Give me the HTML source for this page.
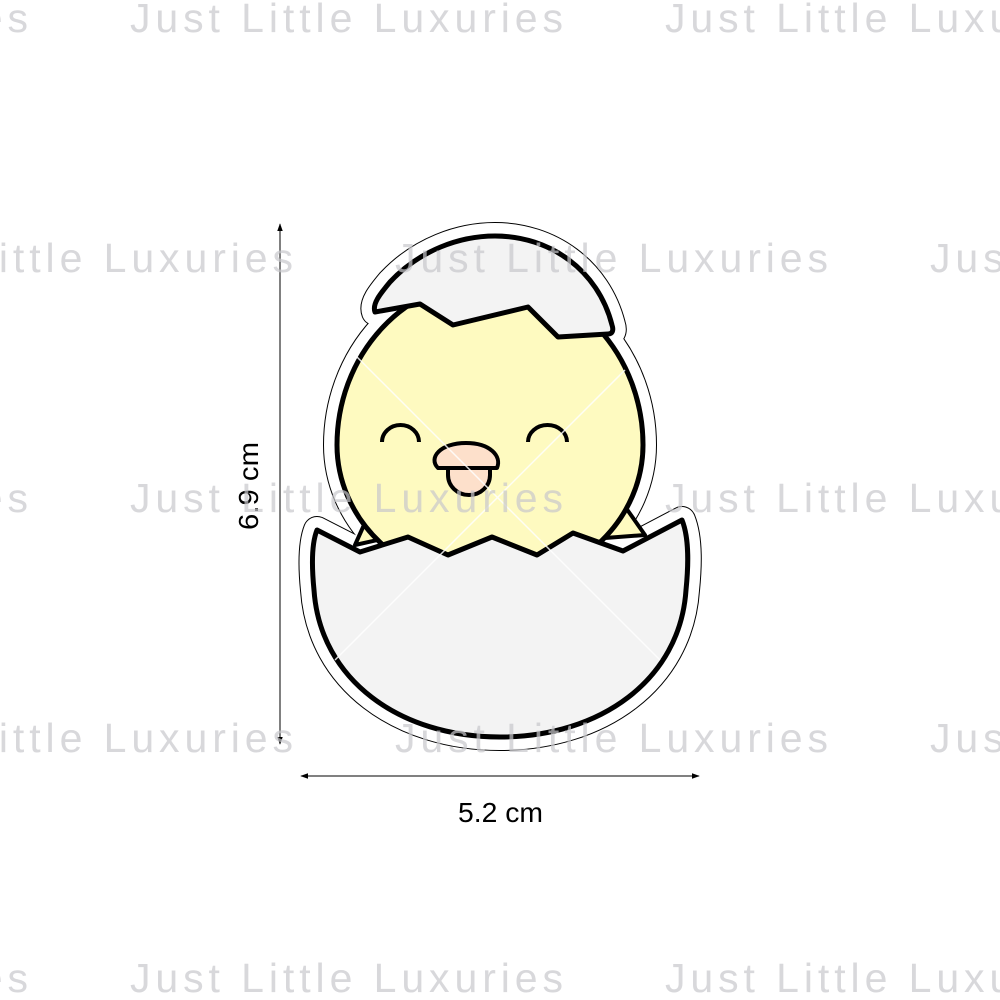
<!DOCTYPE html>
<html><head><meta charset="utf-8"><style>
html,body{margin:0;padding:0;background:#fff;}
svg{display:block;}
</style></head><body>
<svg width="1000" height="1000" viewBox="0 0 1000 1000" xmlns="http://www.w3.org/2000/svg">
<defs>
<marker id="ah" viewBox="0 0 10 10" refX="9" refY="5" markerWidth="8" markerHeight="8" orient="auto-start-reverse">
<path d="M0,1.5 L10,5 L0,8.5 z" fill="#000"/>
</marker>
<path id="topshell" d="M375,312 C372,304 380,294 390,282 C420,250 460,236 495,236 C550,236 598,270 612,325 C614,331 612,334 608,334 L558,337 L528,307 L453,325 L420,304 Z"/>
<path id="body" d="M337,445 A153,165 0 0 1 643,445 A153,140 0 0 1 337,445 Z"/>
<path id="bshell" d="M317,530 L360,552 L408,537 L448,555 L492,537 L537,555 L573,533 L623,551 L682,520 C690,540 688,570 686,590 C680,680 600,737 500,737 C400,737 320,680 314,590 C312,570 311,545 317,530 Z"/>
<g id="union">
<use href="#topshell"/><use href="#body"/><use href="#bshell"/>
</g>
</defs>
<!-- cut outline -->
<use href="#union" fill="none" stroke="#000" stroke-width="28" stroke-linejoin="round"/>
<use href="#union" fill="#fff" stroke="#fff" stroke-width="26" stroke-linejoin="round"/>
<!-- wings -->
<path d="M355,545 L368,516 L400,535 Z" fill="#fefac0" stroke="#000" stroke-width="4" stroke-linejoin="round"/>
<path d="M626,508 L645,535 L605,538 Z" fill="#fefac0" stroke="#000" stroke-width="4" stroke-linejoin="round"/>
<!-- body -->
<use href="#body" fill="#fefac0" stroke="#000" stroke-width="5"/>
<!-- top shell -->
<use href="#topshell" fill="#f3f3f3" stroke="#000" stroke-width="5" stroke-linejoin="round"/>
<!-- eyes -->
<path d="M382,442 A18.5,17 0 0 1 419,442" fill="none" stroke="#000" stroke-width="4"/>
<path d="M528,442 A19.5,17 0 0 1 567,442" fill="none" stroke="#000" stroke-width="4"/>
<!-- beak -->
<path d="M448,468 L448,475 A21,20 0 0 0 490,475 L490,468 Z" fill="#fde0cb" stroke="#000" stroke-width="4"/>
<path d="M438,468 C428,458 440,443 466,443 C490,443 502,456 497,468 Z" fill="#fde0cb" stroke="#000" stroke-width="4" stroke-linejoin="round"/>
<!-- bottom shell -->
<use href="#bshell" fill="#f3f3f3" stroke="#000" stroke-width="5" stroke-linejoin="round"/>
<!-- faint X -->
<g stroke="#fff" stroke-width="1.5" opacity="0.85">
<line x1="355" y1="355" x2="660" y2="660"/>
<line x1="625" y1="370" x2="335" y2="660"/>
</g>
<!-- dimensions -->
<line x1="280" y1="224" x2="280" y2="744" stroke="#000" stroke-width="1" marker-start="url(#ah)" marker-end="url(#ah)"/>
<line x1="301" y1="776" x2="699" y2="776" stroke="#000" stroke-width="1" marker-start="url(#ah)" marker-end="url(#ah)"/>
<text x="458" y="822" font-family="Liberation Sans, sans-serif" font-size="28" textLength="85" lengthAdjust="spacingAndGlyphs" fill="#000">5.2 cm</text>
<text transform="translate(258,530) rotate(-90)" font-family="Liberation Sans, sans-serif" font-size="28" textLength="88" lengthAdjust="spacingAndGlyphs" fill="#000">6.9 cm</text>
<!-- watermark -->
<g font-family="Liberation Sans, sans-serif" font-size="41" fill="#c8c8cc" opacity="0.7">
<text x="-405" y="32" textLength="433" lengthAdjust="spacing">Just Little Luxuries</text>
<text x="130" y="32" textLength="433" lengthAdjust="spacing">Just Little Luxuries</text>
<text x="665" y="32" textLength="433" lengthAdjust="spacing">Just Little Luxuries</text>
<text x="-140" y="272" textLength="433" lengthAdjust="spacing">Just Little Luxuries</text>
<text x="395" y="272" textLength="433" lengthAdjust="spacing">Just Little Luxuries</text>
<text x="930" y="272" textLength="433" lengthAdjust="spacing">Just Little Luxuries</text>
<text x="-405" y="512" textLength="433" lengthAdjust="spacing">Just Little Luxuries</text>
<text x="130" y="512" textLength="433" lengthAdjust="spacing">Just Little Luxuries</text>
<text x="665" y="512" textLength="433" lengthAdjust="spacing">Just Little Luxuries</text>
<text x="-140" y="752" textLength="433" lengthAdjust="spacing">Just Little Luxuries</text>
<text x="395" y="752" textLength="433" lengthAdjust="spacing">Just Little Luxuries</text>
<text x="930" y="752" textLength="433" lengthAdjust="spacing">Just Little Luxuries</text>
<text x="-405" y="992" textLength="433" lengthAdjust="spacing">Just Little Luxuries</text>
<text x="130" y="992" textLength="433" lengthAdjust="spacing">Just Little Luxuries</text>
<text x="665" y="992" textLength="433" lengthAdjust="spacing">Just Little Luxuries</text>
</g>
</svg>
</body></html>
